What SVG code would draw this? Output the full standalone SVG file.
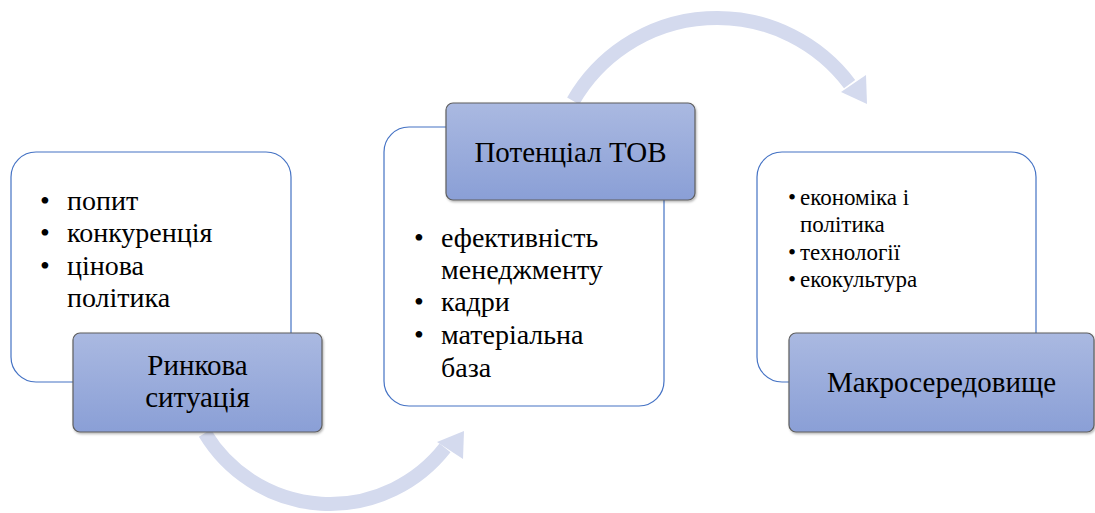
<svg xmlns="http://www.w3.org/2000/svg" width="1095" height="513" viewBox="0 0 1095 513">
<style>
.box{fill:#ffffff;stroke:#4472c4;stroke-width:1.2}
.lbl{fill:url(#lg);stroke:#5f5f5f;stroke-width:1.2}
text{font-family:'Liberation Serif','Tinos','Times New Roman','DejaVu Serif',serif;fill:#000}
.bul{font-size:28px}
.small{font-size:23px}
.head{font-size:29px;text-anchor:middle}
.arc{fill:none;stroke:#d4daee;stroke-width:14}
.ah{fill:#d4daee}
</style>
<defs>
<linearGradient id="lg" x1="0" y1="0" x2="0" y2="1">
<stop offset="0" stop-color="#aab9e1"/>
<stop offset="1" stop-color="#8a9fd6"/>
</linearGradient>
<filter id="sh" x="-5%" y="-5%" width="110%" height="115%">
<feDropShadow dx="1" dy="1.5" stdDeviation="1" flood-color="#000" flood-opacity="0.3"/>
</filter>
</defs>
<g id="connectors">
<path class="arc" d="M 204.9 433.2 A 146 146 0 0 0 445 447.9"/>
<polygon class="ah" points="437,442 464,431 463,459"/>
<path class="arc" d="M 573.2 101 A 166 166 0 0 1 849.6 84.1"/>
<polygon class="ah" points="841,92 866,75 867,104"/>
</g>
<g id="node1">
<rect class="box" x="11" y="152" width="280" height="230" rx="25"/>
<text class="bul" x="40" y="210" font-family="Liberation Serif, serif">•</text><text class="bul" x="67" y="210" font-family="Liberation Serif, serif">попит</text>
<text class="bul" x="40" y="242" font-family="Liberation Serif, serif">•</text><text class="bul" x="67" y="242" font-family="Liberation Serif, serif">конкуренція</text>
<text class="bul" x="40" y="275" font-family="Liberation Serif, serif">•</text><text class="bul" x="67" y="275" font-family="Liberation Serif, serif">цінова</text>
<text class="bul" x="67" y="307" font-family="Liberation Serif, serif">політика</text>
</g>
<g id="label1">
<rect class="lbl" filter="url(#sh)" x="73" y="333" width="249" height="99" rx="7"/>
<text class="head" x="197.5" y="375">Ринкова</text>
<text class="head" x="197.5" y="407">ситуація</text>
</g>
<g id="node2">
<rect class="box" x="384" y="127" width="280" height="279" rx="25"/>
<text class="bul" x="414" y="247">•</text><text class="bul" x="441" y="247">ефективність</text>
<text class="bul" x="441" y="279">менеджменту</text>
<text class="bul" x="414" y="311">•</text><text class="bul" x="441" y="311">кадри</text>
<text class="bul" x="414" y="344">•</text><text class="bul" x="441" y="344">матеріальна</text>
<text class="bul" x="441" y="377">база</text>
</g>
<g id="label2">
<rect class="lbl" filter="url(#sh)" x="446" y="103" width="249" height="97" rx="7"/>
<text class="head" x="570.5" y="162">Потенціал ТОВ</text>
</g>
<g id="node3">
<rect class="box" x="757" y="152" width="279" height="230" rx="25"/>
<text class="small" x="788" y="205">•</text><text class="small" x="800" y="205">економіка і</text>
<text class="small" x="800" y="232">політика</text>
<text class="small" x="788" y="260">•</text><text class="small" x="800" y="260">технології</text>
<text class="small" x="788" y="287">•</text><text class="small" x="800" y="287">екокультура</text>
</g>
<g id="label3">
<rect class="lbl" filter="url(#sh)" x="789" y="333" width="305" height="99" rx="7"/>
<text class="head" x="941.5" y="392">Макросередовище</text>
</g>
</svg>
